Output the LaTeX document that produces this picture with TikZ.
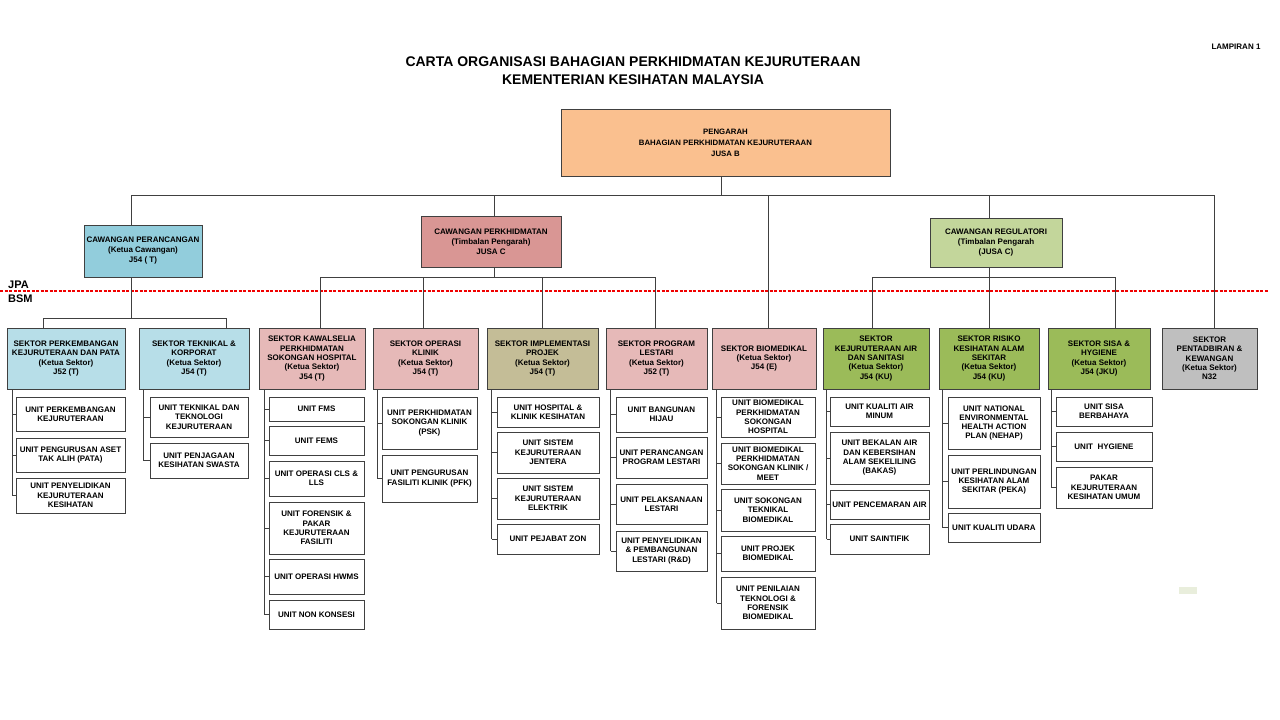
\documentclass[tikz,border=0pt]{standalone}
\usepackage{fontspec}
\setmainfont{Liberation Sans}
\definecolor{lineC}{HTML}{404040}
\definecolor{cTop}{HTML}{FAC08F}
\definecolor{cBlueC}{HTML}{92CDDC}
\definecolor{cPinkC}{HTML}{D99694}
\definecolor{cGreenC}{HTML}{C3D69B}
\definecolor{cBlueS}{HTML}{B7DEE8}
\definecolor{cPinkS}{HTML}{E6B9B8}
\definecolor{cOlive}{HTML}{C4BD97}
\definecolor{cGreenS}{HTML}{9BBB59}
\definecolor{cGray}{HTML}{BFBFBF}
\definecolor{cStray}{HTML}{E9EEDC}
\definecolor{cRed}{HTML}{F00000}
\newcommand{\myfu}{\fontsize{8}{9.3}\selectfont\bfseries}
\newcommand{\myfc}{\fontsize{8}{10}\selectfont\bfseries}
\newcommand{\myft}{\fontsize{7.8}{11}\selectfont\bfseries}
\newcommand{\mybox}[7]{\node[#6, minimum width={#4pt-#2pt}, minimum height={#5pt-#3pt}] (#1) at ({(#2+#4)/2},{(#3+#5)/2}) {#7};}
\tikzset{
  bx/.style={draw=lineC, line width=0.8pt, align=center, inner sep=1pt, font=\myfu, fill=white},
  sbx/.style={bx, line width=1pt},
  cbx/.style={bx, line width=1pt, font=\myfc},
  conn/.style={draw=lineC, line width=0.8pt},
}
\begin{document}
\begin{tikzpicture}[x=1pt,y=-1pt]
\useasboundingbox (0,0) rectangle (1280,720);
\fill[white] (0,0) rectangle (1280,720);

% titles
\node[align=center, font=\fontsize{14}{18}\selectfont\bfseries] (title) at (633,71) {CARTA ORGANISASI BAHAGIAN PERKHIDMATAN KEJURUTERAAN\\KEMENTERIAN KESIHATAN MALAYSIA};
\node[font=\fontsize{8}{10}\selectfont\bfseries] (lamp) at (1236,47) {LAMPIRAN 1};

% JPA / BSM line
\coordinate (redL) at (0,291);
\coordinate (redR) at (1268,291);
\draw[cRed, line width=1.2pt, dash pattern=on 3pt off 1.5pt] (redL) -- (redR);
\node[anchor=west, font=\fontsize{11}{13}\selectfont\bfseries, inner sep=0pt] (jpa) at (8,285) {JPA};
\node[anchor=west, font=\fontsize{11}{13}\selectfont\bfseries, inner sep=0pt] (bsm) at (8,299) {BSM};

% top
\mybox{top}{561}{109}{890}{176}{bx, line width=1pt, fill=cTop, font=\myft}{PENGARAH\\BAHAGIAN PERKHIDMATAN KEJURUTERAAN\\JUSA B}

% cawangan
\mybox{c1}{84}{225}{202}{277}{cbx, fill=cBlueC}{CAWANGAN PERANCANGAN\\(Ketua Cawangan)\\J54 ( T)}
\mybox{c2}{421}{216}{561}{267}{cbx, fill=cPinkC}{CAWANGAN PERKHIDMATAN\\(Timbalan Pengarah)\\JUSA C}
\mybox{c3}{930}{218}{1062}{267}{cbx, fill=cGreenC}{CAWANGAN REGULATORI\\(Timbalan Pengarah\\(JUSA C)}

% sectors
\mybox{s1}{7}{328}{125}{389}{sbx, fill=cBlueS}{SEKTOR PERKEMBANGAN\\KEJURUTERAAN DAN PATA\\(Ketua Sektor)\\J52 (T)}
\mybox{s2}{139}{328}{249}{389}{sbx, fill=cBlueS}{SEKTOR TEKNIKAL \&\\KORPORAT\\(Ketua Sektor)\\J54 (T)}
\mybox{s3}{259}{328}{365}{389}{sbx, fill=cPinkS}{SEKTOR KAWALSELIA\\PERKHIDMATAN\\SOKONGAN HOSPITAL\\(Ketua Sektor)\\J54 (T)}
\mybox{s4}{373}{328}{478}{389}{sbx, fill=cPinkS}{SEKTOR OPERASI\\KLINIK\\(Ketua Sektor)\\J54 (T)}
\mybox{s5}{487}{328}{598}{389}{sbx, fill=cOlive}{SEKTOR IMPLEMENTASI\\PROJEK\\(Ketua Sektor)\\J54 (T)}
\mybox{s6}{606}{328}{707}{389}{sbx, fill=cPinkS}{SEKTOR PROGRAM\\LESTARI\\(Ketua Sektor)\\J52 (T)}
\mybox{s7}{712}{328}{816}{389}{sbx, fill=cPinkS}{SEKTOR BIOMEDIKAL\\(Ketua Sektor)\\J54 (E)}
\mybox{s8}{823}{328}{929}{389}{sbx, fill=cGreenS}{SEKTOR\\KEJURUTERAAN AIR\\DAN SANITASI\\(Ketua Sektor)\\J54 (KU)}
\mybox{s9}{939}{328}{1039}{389}{sbx, fill=cGreenS}{SEKTOR RISIKO\\KESIHATAN ALAM\\SEKITAR\\(Ketua Sektor)\\J54 (KU)}
\mybox{s10}{1048}{328}{1150}{389}{sbx, fill=cGreenS}{SEKTOR SISA \&\\HYGIENE\\(Ketua Sektor)\\J54 (JKU)}
\mybox{s11}{1162}{328}{1257}{389}{sbx, fill=cGray}{SEKTOR\\PENTADBIRAN \&\\KEWANGAN\\(Ketua Sektor)\\N32}

% units col 1
\mybox{u1a}{16}{397}{125}{431}{bx}{UNIT PERKEMBANGAN\\KEJURUTERAAN}
\mybox{u1b}{16}{438}{125}{472}{bx}{UNIT PENGURUSAN ASET\\TAK ALIH (PATA)}
\mybox{u1c}{16}{478}{125}{513}{bx}{UNIT PENYELIDIKAN\\KEJURUTERAAN\\KESIHATAN}
% col 2
\mybox{u2a}{150}{397}{248}{437}{bx}{UNIT TEKNIKAL DAN\\TEKNOLOGI\\KEJURUTERAAN}
\mybox{u2b}{150}{443}{248}{478}{bx}{UNIT PENJAGAAN\\KESIHATAN SWASTA}
% col 3
\mybox{u3a}{269}{397}{364}{421}{bx}{UNIT FMS}
\mybox{u3b}{269}{426}{364}{455}{bx}{UNIT FEMS}
\mybox{u3c}{269}{461}{364}{496}{bx}{UNIT OPERASI CLS \&\\LLS}
\mybox{u3d}{269}{502}{364}{554}{bx}{UNIT FORENSIK \&\\PAKAR\\KEJURUTERAAN\\FASILITI}
\mybox{u3e}{269}{559}{364}{594}{bx}{UNIT OPERASI HWMS}
\mybox{u3f}{269}{600}{364}{629}{bx}{UNIT NON KONSESI}
% col 4
\mybox{u4a}{382}{397}{477}{449}{bx}{UNIT PERKHIDMATAN\\SOKONGAN KLINIK\\(PSK)}
\mybox{u4b}{382}{455}{477}{502}{bx}{UNIT PENGURUSAN\\FASILITI KLINIK (PFK)}
% col 5
\mybox{u5a}{497}{397}{599}{427}{bx}{UNIT HOSPITAL \&\\KLINIK KESIHATAN}
\mybox{u5b}{497}{432}{599}{473}{bx}{UNIT SISTEM\\KEJURUTERAAN\\JENTERA}
\mybox{u5c}{497}{478}{599}{519}{bx}{UNIT SISTEM\\KEJURUTERAAN\\ELEKTRIK}
\mybox{u5d}{497}{524}{599}{554}{bx}{UNIT PEJABAT ZON}
% col 6
\mybox{u6a}{616}{397}{707}{432}{bx}{UNIT BANGUNAN\\HIJAU}
\mybox{u6b}{616}{437}{707}{478}{bx}{UNIT PERANCANGAN\\PROGRAM LESTARI}
\mybox{u6c}{616}{484}{707}{524}{bx}{UNIT PELAKSANAAN\\LESTARI}
\mybox{u6d}{616}{531}{707}{571}{bx}{UNIT PENYELIDIKAN\\\& PEMBANGUNAN\\LESTARI (R\&D)}
% col 7
\mybox{u7a}{721}{397}{815}{437}{bx}{UNIT BIOMEDIKAL\\PERKHIDMATAN\\SOKONGAN\\HOSPITAL}
\mybox{u7b}{721}{443}{815}{484}{bx}{UNIT BIOMEDIKAL\\PERKHIDMATAN\\SOKONGAN KLINIK /\\MEET}
\mybox{u7c}{721}{489}{815}{531}{bx}{UNIT SOKONGAN\\TEKNIKAL\\BIOMEDIKAL}
\mybox{u7d}{721}{536}{815}{571}{bx}{UNIT PROJEK\\BIOMEDIKAL}
\mybox{u7e}{721}{577}{815}{629}{bx}{UNIT PENILAIAN\\TEKNOLOGI \&\\FORENSIK\\BIOMEDIKAL}
% col 8
\mybox{u8a}{830}{397}{929}{426}{bx}{UNIT KUALITI AIR\\MINUM}
\mybox{u8b}{830}{432}{929}{484}{bx}{UNIT BEKALAN AIR\\DAN KEBERSIHAN\\ALAM SEKELILING\\(BAKAS)}
\mybox{u8c}{830}{490}{929}{519}{bx}{UNIT PENCEMARAN AIR}
\mybox{u8d}{830}{524}{929}{554}{bx}{UNIT SAINTIFIK}
% col 9
\mybox{u9a}{948}{397}{1040}{449}{bx}{UNIT NATIONAL\\ENVIRONMENTAL\\HEALTH ACTION\\PLAN (NEHAP)}
\mybox{u9b}{948}{455}{1040}{508}{bx}{UNIT PERLINDUNGAN\\KESIHATAN ALAM\\SEKITAR (PEKA)}
\mybox{u9c}{948}{513}{1040}{542}{bx}{UNIT KUALITI UDARA}
% col 10
\mybox{u10a}{1056}{397}{1152}{426}{bx}{UNIT SISA\\BERBAHAYA}
\mybox{u10b}{1056}{432}{1152}{461}{bx}{UNIT\ \ HYGIENE}
\mybox{u10c}{1056}{467}{1152}{508}{bx}{PAKAR\\KEJURUTERAAN\\KESIHATAN UMUM}

% stray mark
\fill[cStray] (1179,587) rectangle (1197,594);

% ---- connectors ----
\coordinate (busA) at (0,195);
\coordinate (busB) at (0,277);
\coordinate (busC) at (0,318);
\coordinate (topb) at ([xshift=-4.5pt]top.south);
\coordinate (c1t) at ([xshift=-12pt]c1.north);
\coordinate (c1b) at ([xshift=-12pt]c1.south);
\coordinate (c2t) at ([xshift=3pt]c2.north);
\coordinate (c2b) at ([xshift=3pt]c2.south);
\coordinate (c3t) at ([xshift=-7pt]c3.north);
\coordinate (c3b) at ([xshift=-7pt]c3.south);
\coordinate (s1t) at ([xshift=-23pt]s1.north);
\coordinate (s2t) at ([xshift=32pt]s2.north);
\coordinate (s3t) at ([xshift=8pt]s3.north);
\coordinate (s4t) at ([xshift=-2.5pt]s4.north);
\coordinate (s5t) at (s5.north);
\coordinate (s6t) at ([xshift=-1pt]s6.north);
\coordinate (s7t) at ([xshift=4pt]s7.north);
\coordinate (s8t) at ([xshift=-4pt]s8.north);
\coordinate (s9t) at (s9.north);
\coordinate (s10t) at ([xshift=16pt]s10.north);
\coordinate (s11t) at ([xshift=4.5pt]s11.north);

\draw[conn] (topb) -- (topb |- busA);
\draw[conn] (c1t |- busA) -- (s11t |- busA);
\foreach \n in {c1t,c2t,c3t,s7t,s11t} {\draw[conn] (\n) -- (\n |- busA);}

\draw[conn] (c1b) -- (c1b |- busC);
\draw[conn] (s1t |- busC) -- (s2t |- busC);
\foreach \n in {s1t,s2t} {\draw[conn] (\n) -- (\n |- busC);}

\draw[conn] (c2b) -- (c2b |- busB);
\draw[conn] (s3t |- busB) -- (s6t |- busB);
\foreach \n in {s3t,s4t,s5t,s6t} {\draw[conn] (\n) -- (\n |- busB);}

\draw[conn] (c3b) -- (c3b |- busB);
\draw[conn] (s8t |- busB) -- (s10t |- busB);
\foreach \n in {s8t,s9t,s10t} {\draw[conn] (\n) -- (\n |- busB);}

% unit trees
\coordinate (v1) at ([xshift=-3pt]u1c.west);
\draw[conn] (v1 |- s1.south) -- (v1);
\foreach \u in {u1a,u1b,u1c} {\draw[conn] (v1 |- \u.west) -- (\u.west);}
\coordinate (v2) at ([xshift=-6pt]u2b.west);
\draw[conn] (v2 |- s2.south) -- (v2);
\foreach \u in {u2a,u2b} {\draw[conn] (v2 |- \u.west) -- (\u.west);}
\coordinate (v3) at ([xshift=-4pt]u3f.west);
\draw[conn] (v3 |- s3.south) -- (v3);
\foreach \u in {u3a,u3b,u3c,u3d,u3e,u3f} {\draw[conn] (v3 |- \u.west) -- (\u.west);}
\coordinate (v4) at ([xshift=-4pt]u4b.west);
\draw[conn] (v4 |- s4.south) -- (v4);
\foreach \u in {u4a,u4b} {\draw[conn] (v4 |- \u.west) -- (\u.west);}
\coordinate (v5) at ([xshift=-5pt]u5d.west);
\draw[conn] (v5 |- s5.south) -- (v5);
\foreach \u in {u5a,u5b,u5c,u5d} {\draw[conn] (v5 |- \u.west) -- (\u.west);}
\coordinate (v6) at ([xshift=-5pt]u6d.west);
\draw[conn] (v6 |- s6.south) -- (v6);
\foreach \u in {u6a,u6b,u6c,u6d} {\draw[conn] (v6 |- \u.west) -- (\u.west);}
\coordinate (v7) at ([xshift=-4pt]u7e.west);
\draw[conn] (v7 |- s7.south) -- (v7);
\foreach \u in {u7a,u7b,u7c,u7d,u7e} {\draw[conn] (v7 |- \u.west) -- (\u.west);}
\coordinate (v8) at ([xshift=-3pt]u8d.west);
\draw[conn] (v8 |- s8.south) -- (v8);
\foreach \u in {u8a,u8b,u8c,u8d} {\draw[conn] (v8 |- \u.west) -- (\u.west);}
\coordinate (v9) at ([xshift=-5pt]u9c.west);
\draw[conn] (v9 |- s9.south) -- (v9);
\foreach \u in {u9a,u9b,u9c} {\draw[conn] (v9 |- \u.west) -- (\u.west);}
\coordinate (v10) at ([xshift=-4pt]u10c.west);
\draw[conn] (v10 |- s10.south) -- (v10);
\foreach \u in {u10a,u10b,u10c} {\draw[conn] (v10 |- \u.west) -- (\u.west);}
\end{tikzpicture}
\end{document}
